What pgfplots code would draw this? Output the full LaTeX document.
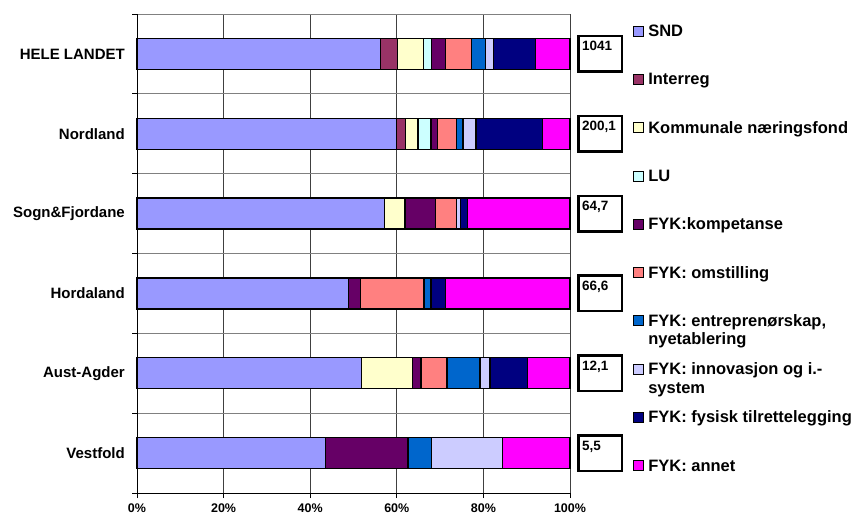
\documentclass[border=0pt]{standalone}
\usepackage{pgfplots}
\pgfplotsset{compat=1.18}
\usepackage{pgfplotstable}
\usepackage{fontspec}
\setmainfont{Liberation Sans}

\definecolor{cSND}{HTML}{9999FF}
\definecolor{cInt}{HTML}{993366}
\definecolor{cKomm}{HTML}{FFFFCC}
\definecolor{cLU}{HTML}{CCFFFF}
\definecolor{cKomp}{HTML}{660066}
\definecolor{cOmst}{HTML}{FF8080}
\definecolor{cEntr}{HTML}{0066CC}
\definecolor{cInnov}{HTML}{CCCCFF}
\definecolor{cFys}{HTML}{000080}
\definecolor{cAnnet}{HTML}{FF00FF}

\pgfplotstableread{
y snd interreg komm lu komp omst entr innov fysisk annet
5 56.2 4.0 5.9 2.0 3.2 5.9 3.2 2.0 9.7 7.9
4 59.9 2.1 2.9 3.0 1.5 4.4 1.5 3.0 15.4 6.3
3 57.1 0 4.8 0 7.1 4.7 0 1.0 1.7 23.6
2 48.8 0 0 0 2.8 14.7 1.6 0 3.4 28.7
1 51.8 0 11.9 0 1.9 6.0 7.6 2.3 8.6 9.9
0 43.5 0 0 0 19.1 0 5.5 16.3 0 15.6
}\datatable

\pgfplotsset{
  sq/.style={legend image code/.code={\draw[##1,line width=0.8pt,draw=black] (0pt,-3.5pt) rectangle (10pt,6.5pt);}},
  seg/.style={draw=black,line width=1.2pt,fill=#1,sq},
}
\tikzset{vbox/.style={draw=black, line width=2.5pt, fill=white, anchor=west, xshift=7.25pt,
  inner xsep=3.5pt, inner ysep=5pt, text width=36.5pt, text height=9.7pt, text depth=15.8pt,
  align=left, font=\fontsize{13.5}{16}\selectfont\bfseries}}

\begin{document}
\begin{tikzpicture}
\useasboundingbox (0,0) rectangle (858pt,517pt);
\begin{axis}[
  at={(137pt,24pt)}, anchor=south west,
  scale only axis, width=433pt, height=479pt,
  xbar stacked, bar width=31pt,
  xmin=0, xmax=100, ymin=-0.5, ymax=5.5,
  xtick={0,20,...,100},
  xticklabels={0\%,20\%,40\%,60\%,80\%,100\%},
  ytick={-0.5,0.5,...,5.5},
  y tick label as interval,
  yticklabels={Vestfold,Aust-Agder,Hordaland,Sogn\&Fjordane,Nordland,HELE LANDET},
  axis x line*=bottom, axis y line*=left,
  xmajorgrids, ymajorgrids,
  major x grid style={black!75, line width=0.8pt},
  major y grid style={black!50, line width=0.8pt},
  tick align=outside, major tick length=5pt,
  tick style={black, line width=0.8pt},
  axis line style={black, line width=1pt},
  xticklabel style={font=\fontsize{12.5}{14}\selectfont\bfseries, inner sep=0pt, yshift=-6pt},
  yticklabel style={font=\fontsize{15}{17}\selectfont\bfseries, inner sep=0pt, xshift=-7pt},
  clip=false,
  legend style={at={(1.1455,0.9779)}, anchor=north west, draw=none, fill=none,
    inner sep=0pt, outer sep=0pt, row sep=32.3pt, column sep=4.5pt,
    font=\fontsize{16.5}{18.5}\selectfont\bfseries,
    nodes={inner sep=0pt, text height=12pt, text depth=4pt}},
  legend cell align=left,
]
\addplot[seg=cSND] table[x=snd,y=y]{\datatable};
\addplot[seg=cInt] table[x=interreg,y=y]{\datatable};
\addplot[seg=cKomm] table[x=komm,y=y]{\datatable};
\addplot[seg=cLU] table[x=lu,y=y]{\datatable};
\addplot[seg=cKomp] table[x=komp,y=y]{\datatable};
\addplot[seg=cOmst] table[x=omst,y=y]{\datatable};
\addplot[seg=cEntr] table[x=entr,y=y]{\datatable};
\addplot[seg=cInnov] table[x=innov,y=y]{\datatable};
\addplot[seg=cFys] table[x=fysisk,y=y]{\datatable};
\addplot[seg=cAnnet] table[x=annet,y=y]{\datatable};
\legend{SND, Interreg, Kommunale næringsfond, LU, FYK:kompetanse, FYK: omstilling,
  {\parbox[t]{220pt}{FYK: entreprenørskap,\\nyetablering}},
  {\parbox[t]{220pt}{FYK: innovasjon og i.-\\system}},
  FYK: fysisk tilrettelegging, FYK: annet}

\node[vbox] at (axis cs:100,5) {1041};
\node[vbox] at (axis cs:100,4) {200,1};
\node[vbox] at (axis cs:100,3) {64,7};
\node[vbox] at (axis cs:100,2) {66,6};
\node[vbox] at (axis cs:100,1) {12,1};
\node[vbox] at (axis cs:100,0) {5,5};
\end{axis}
\end{tikzpicture}
\end{document}
